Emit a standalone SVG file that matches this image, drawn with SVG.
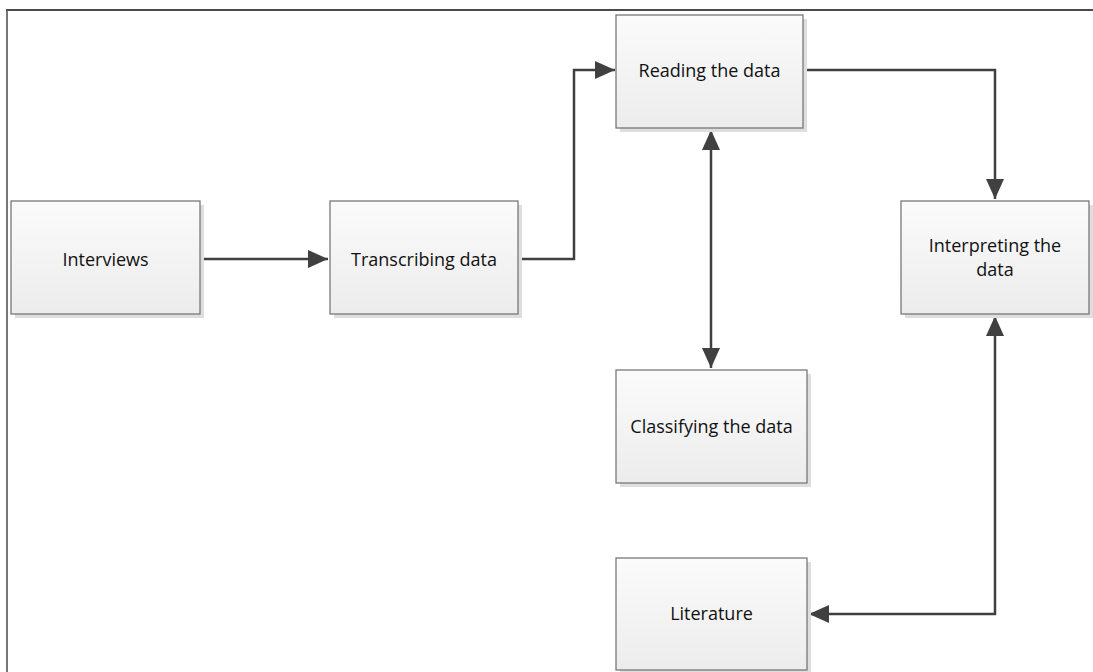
<svg xmlns="http://www.w3.org/2000/svg" width="1093" height="672" viewBox="0 0 1093 672">
<defs>
<linearGradient id="g" x1="0" y1="0" x2="0" y2="1">
<stop offset="0" stop-color="#fbfbfb"/>
<stop offset="1" stop-color="#ececec"/>
</linearGradient>
<marker id="ah" viewBox="0 0 20 18" refX="20" refY="9" markerWidth="20" markerHeight="18" markerUnits="userSpaceOnUse" orient="auto-start-reverse">
<path d="M0,0 L20,9 L0,18 Z" fill="#404040"/>
</marker>
<style>
.sh{fill:#dedede}
.bx{fill:url(#g);stroke:#6e6e6e;stroke-width:1.2}
.t{font-family:"Open Sans","Noto Sans",sans-serif;font-size:18px;fill:#111;text-anchor:middle}
.c{fill:none;stroke:#404040;stroke-width:2.5}
</style>
</defs>
<rect width="1093" height="672" fill="#fff"/>
<g id="frame">
<line x1="6" y1="10" x2="1093" y2="10" stroke="#111" stroke-width="1.6"/>
<line x1="7" y1="10" x2="7" y2="672" stroke="#555" stroke-width="1.6"/>
</g>
<g id="connectors">
<path class="c" d="M200,259 H328" marker-end="url(#ah)"/>
<path class="c" d="M518,259 H574 V70 H615" marker-end="url(#ah)"/>
<path class="c" d="M711,130 V368" marker-start="url(#ah)" marker-end="url(#ah)"/>
<path class="c" d="M803,70 H995 V199" marker-end="url(#ah)"/>
<path class="c" d="M809,614 H995 V316" marker-start="url(#ah)" marker-end="url(#ah)"/>
</g>
<g id="interviews">
<rect class="sh" x="15" y="205" width="189" height="113"/>
<rect class="bx" x="11" y="201" width="189" height="113"/>
<text class="t" x="105.5" y="266">Interviews</text>
</g>
<g id="transcribing">
<rect class="sh" x="334" y="205" width="188" height="113"/>
<rect class="bx" x="330" y="201" width="188" height="113"/>
<text class="t" x="424" y="266">Transcribing data</text>
</g>
<g id="reading">
<rect class="sh" x="620" y="19" width="187" height="113"/>
<rect class="bx" x="616" y="15" width="187" height="113"/>
<text class="t" x="709.5" y="77">Reading the data</text>
</g>
<g id="interpreting">
<rect class="sh" x="905" y="205" width="188" height="113"/>
<rect class="bx" x="901" y="201" width="188" height="113"/>
<text class="t" x="995" y="252">Interpreting the</text>
<text class="t" x="995" y="276">data</text>
</g>
<g id="classifying">
<rect class="sh" x="620" y="374" width="191" height="113"/>
<rect class="bx" x="616" y="370" width="191" height="113"/>
<text class="t" x="711.5" y="433">Classifying the data</text>
</g>
<g id="literature">
<rect class="sh" x="620" y="562" width="191" height="113"/>
<rect class="bx" x="616" y="558" width="191" height="112"/>
<text class="t" x="711.5" y="620">Literature</text>
</g>
</svg>
